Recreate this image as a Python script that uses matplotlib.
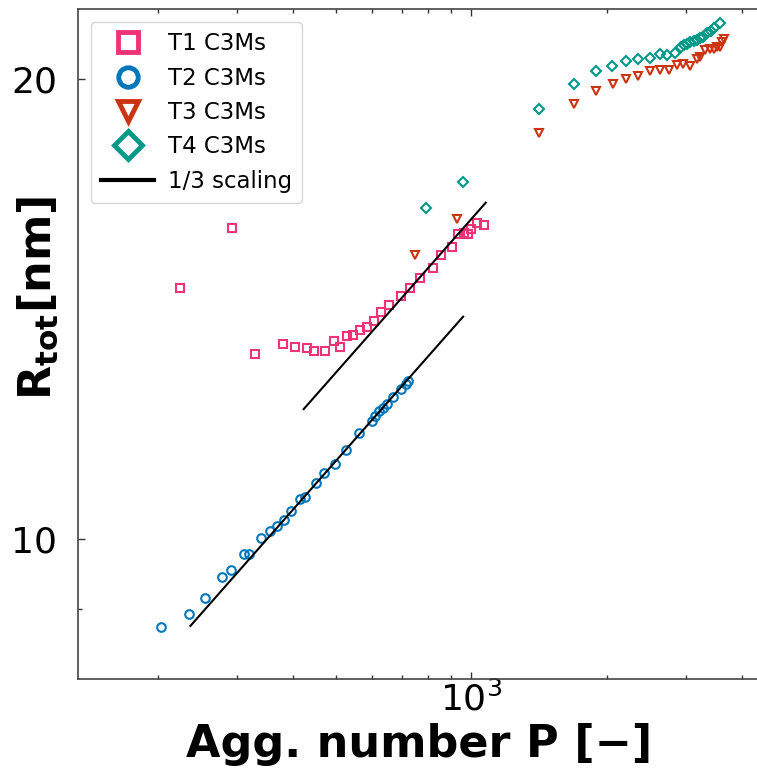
import matplotlib
matplotlib.use("Agg")
import matplotlib.pyplot as plt
import numpy as np
from matplotlib.ticker import FixedLocator, FixedFormatter, NullFormatter, LogLocator, LogFormatterSciNotation

# Aggregation number P and total radius R_tot [nm] for each C3M type
t1_p = [224.0, 293.1, 329.9, 379.6, 404.9, 430.6, 447.0, 471.3, 494.6, 508.9,
        528.6, 546.0, 566.0, 585.7, 605.9, 629.3, 655.7, 698.4, 728.8, 767.0,
        820.1, 857.5, 905.8, 934.1, 961.3, 981.3, 1000.0, 1029.7, 1065.2]
t1_r = [14.60, 15.97, 13.22, 13.41, 13.35, 13.33, 13.27, 13.27, 13.48, 13.35,
        13.58, 13.59, 13.71, 13.77, 13.90, 14.07, 14.22, 14.43, 14.60, 14.82,
        15.05, 15.34, 15.53, 15.84, 15.85, 15.84, 15.95, 16.11, 16.05]

t2_p = [203.9, 235.1, 255.2, 277.9, 292.1, 312.2, 319.8, 340.6, 356.7, 369.2,
        383.3, 397.3, 414.6, 426.9, 451.7, 470.6, 497.2, 526.7, 563.1, 601.8,
        611.2, 621.6, 635.8, 649.0, 670.3, 697.3, 714.0, 722.8]
t2_r = [8.76, 8.93, 9.15, 9.44, 9.55, 9.77, 9.78, 10.01, 10.12, 10.19,
        10.29, 10.43, 10.62, 10.65, 10.88, 11.05, 11.20, 11.44, 11.74, 11.94,
        12.04, 12.13, 12.19, 12.26, 12.39, 12.53, 12.64, 12.69]

t3_p = [750.3, 928.4, 1412, 1692, 1898, 2072, 2214, 2349, 2495, 2636,
        2754, 2872, 2967, 3074, 3182, 3236, 3320, 3406, 3464, 3525,
        3586, 3622, 3660]
t3_r = [15.35, 16.19, 18.43, 19.26, 19.64, 19.86, 20.00, 20.10, 20.24, 20.28,
        20.28, 20.43, 20.45, 20.39, 20.61, 20.69, 20.91, 20.92, 20.94, 21.00,
        20.99, 21.15, 21.24]

t4_p = [792.1, 959.8, 1412, 1692, 1898, 2058, 2209, 2355, 2495, 2630,
        2733, 2844, 2936, 2982, 3028, 3074, 3127, 3182, 3236, 3286,
        3355, 3420, 3477, 3573]
t4_r = [16.47, 17.12, 19.12, 19.85, 20.24, 20.41, 20.54, 20.62, 20.64, 20.77,
        20.73, 20.81, 20.98, 21.04, 21.08, 21.14, 21.18, 21.23, 21.28, 21.32,
        21.43, 21.52, 21.59, 21.77]

# R ~ P^(1/3) guide lines: P range and prefactor
guide_low_p = [236.7, 958.3]
guide_low_c = 1.418
guide_high_p = [423.1, 1076.0]
guide_high_c = 1.620

labels = ["T1 C3Ms", "T2 C3Ms", "T3 C3Ms", "T4 C3Ms", "1/3 scaling"]
colors = ["#EE3377", "#0077BB", "#CC3311", "#009988"]
markers = ["s", "o", "v", "D"]

W, H = 757, 769
fig = plt.figure(figsize=(W / 100, H / 100), dpi=100)
ax_left, ax_right, ax_top, ax_bottom = 78, 769, 9, 679
ax = fig.add_axes([ax_left / W, (H - ax_bottom) / H,
                   (ax_right - ax_left) / W, (ax_bottom - ax_top) / H])

series = [(t1_p, t1_r), (t2_p, t2_r), (t3_p, t3_r), (t4_p, t4_r)]
sizes = [5.8, 6.2, 6.2, 5.4]
for (p, r), c, m, lab, s in zip(series, colors, markers, labels, sizes):
    ax.plot(p, r, linestyle="none", marker=m, mfc="none", mec=c,
            ms=s, mew=1.5, label=lab)

for gp, gc, lab in [(guide_high_p, guide_high_c, labels[4]),
                    (guide_low_p, guide_low_c, None)]:
    gp = np.array(gp)
    ax.plot(gp, gc * gp ** (1 / 3), color="black", lw=1.5, label=lab)

ax.set_xscale("log")
ax.set_yscale("log")
ax.set_xlim(133, 4600)
ax.set_ylim(8.097, 22.23)

ax.xaxis.set_major_locator(LogLocator(base=10))
ax.xaxis.set_major_formatter(LogFormatterSciNotation())
ax.xaxis.set_minor_locator(LogLocator(base=10, subs=np.arange(2, 10)))
ax.xaxis.set_minor_formatter(NullFormatter())
ax.yaxis.set_major_locator(FixedLocator([10, 20]))
ax.yaxis.set_major_formatter(FixedFormatter(["10", "20"]))
ax.yaxis.set_minor_locator(FixedLocator([9]))
ax.yaxis.set_minor_formatter(NullFormatter())

ax.tick_params(which="both", direction="in", top=True, right=True,
               width=1, colors="#333333")
ax.tick_params(which="major", length=5)
ax.tick_params(which="minor", length=3)
ax.tick_params(axis="y", which="major", labelsize=26, pad=15, labelcolor="black")
ax.tick_params(axis="x", which="major", labelsize=26, pad=2, labelcolor="black")
for sp in ax.spines.values():
    sp.set_color("#444444")
    sp.set_linewidth(1.2)

ax.set_xlabel("Agg. number P [\u2212]", fontsize=32, fontweight="bold")
ax.xaxis.set_label_coords(0.494, -0.0985)
ax.xaxis.label.set_va("center")
ax.set_ylabel(r"$\mathbf{R_{tot}}$[nm]", fontsize=32, fontweight="bold")
ax.yaxis.set_label_coords(-0.058, 0.569)
ax.yaxis.label.set_va("center")
ax.yaxis.label.set_ha("center")

leg = ax.legend(loc="upper left", fontsize=16.5, handlelength=2.3,
                labelspacing=0.5, borderpad=0.45, handletextpad=0.6,
                bbox_to_anchor=(0.002, 0.998))
for h in leg.legend_handles[:4]:
    h.set_markersize(14)
    h.set_markeredgewidth(3.5)
leg.legend_handles[4].set_linewidth(3)

fig.savefig("out.png", dpi=100)
